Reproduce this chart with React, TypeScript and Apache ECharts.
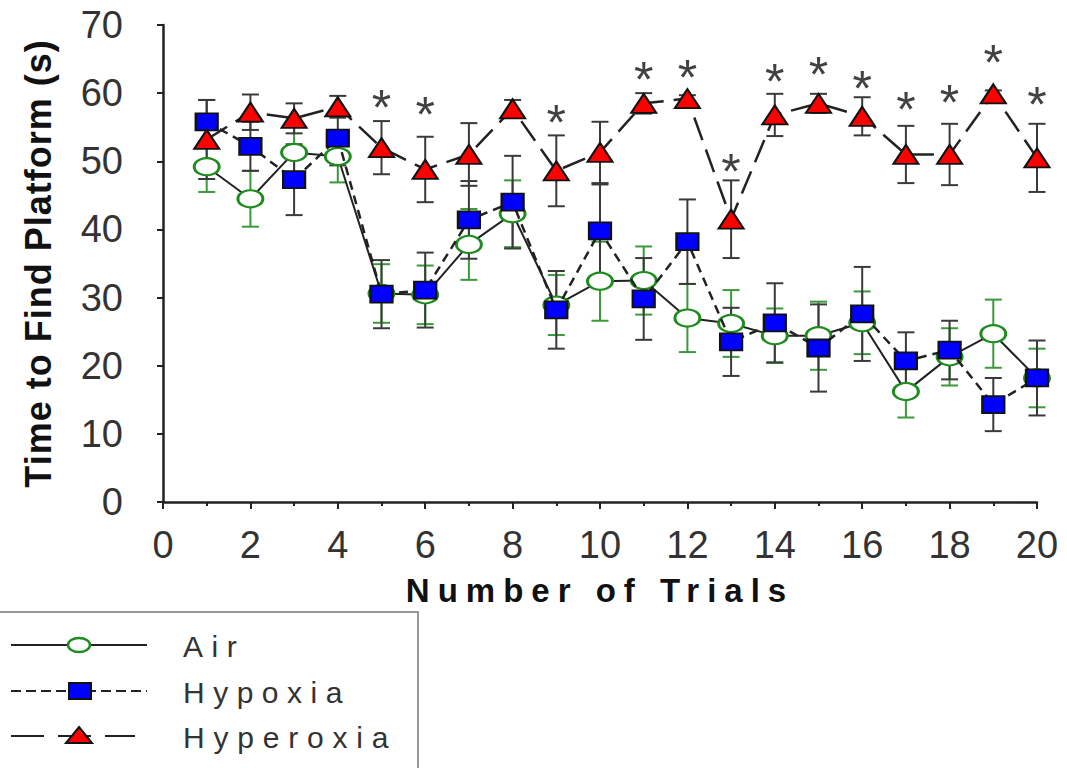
import React, { useEffect, useRef } from 'react';
import * as echarts from 'echarts';

const trials = [1, 2, 3, 4, 5, 6, 7, 8, 9, 10, 11, 12, 13, 14, 15, 16, 17, 18, 19, 20];

const air = [49.2, 44.5, 51.3, 50.7, 30.6, 30.4, 37.8, 42.3, 28.9, 32.4, 32.5, 27.0, 26.2, 24.4, 24.4, 26.3, 16.2, 21.3, 24.7, 18.2];
const airSe = [3.7, 4.1, 3.9, 3.8, 4.3, 4.3, 5.2, 4.9, 4.4, 5.8, 5.0, 5.0, 4.9, 4.0, 5.0, 4.6, 3.8, 4.2, 5.0, 4.3];

const hypoxia = [55.8, 52.2, 47.3, 53.4, 30.5, 31.1, 41.4, 44.0, 28.2, 39.8, 29.8, 38.2, 23.5, 26.3, 22.6, 27.6, 20.7, 22.3, 14.3, 18.2];
const hypoxiaSe = [3.2, 3.6, 5.2, 4.0, 5.0, 5.5, 5.7, 6.8, 5.7, 6.8, 6.0, 6.2, 5.0, 5.8, 6.4, 6.9, 4.2, 4.3, 3.9, 5.5];

const hyperoxia = [53.2, 57.2, 56.3, 58.0, 52.0, 48.8, 51.0, 57.7, 48.6, 51.3, 58.5, 59.2, 41.5, 56.8, 58.5, 56.6, 51.0, 51.0, 59.9, 50.5];
const hyperoxiaSe = [5.8, 2.6, 2.2, 1.6, 3.9, 4.8, 4.6, 1.3, 5.2, 4.5, 1.5, 0.5, 5.7, 3.1, 1.4, 2.8, 4.2, 4.5, 0.5, 5.0];

// significance markers (*) : trial and vertical position of the asterisk
const sigTrials = [5, 6, 9, 11, 12, 13, 14, 15, 16, 17, 18, 19, 20];
const sigY = [58.8, 57.8, 56.6, 62.9, 63.2, 49.5, 62.6, 63.7, 61.7, 58.6, 59.6, 65.4, 59.3];

const seriesNames = ['Air', 'Hypoxia', 'Hyperoxia'];
const xTicks = { min: 0, max: 20, interval: 2 };
const yTicks = { min: 0, max: 70, interval: 10 };

const FONT = "'Liberation Sans', Arial, sans-serif";
const GREEN = '#1e8c1e';

export default function App() {
  const ref = useRef<HTMLDivElement>(null);

  useEffect(() => {
    const el = ref.current!;
    const chart = echarts.init(el, null, { renderer: 'svg' });

    const pts = (vals: number[]) => trials.map((t, i) => [t, vals[i]]);
    const errData = (vals: number[], se: number[]) =>
      trials.map((t, i) => [t, vals[i] - se[i], vals[i] + se[i]]);

    const errSeries = (name: string, vals: number[], se: number[], color: string) => ({
      type: 'custom',
      name: name + ' SE',
      silent: true,
      z: 1,
      data: errData(vals, se),
      encode: { x: 0, y: [1, 2] },
      renderItem: (params: any, api: any) => {
        const x = api.value(0);
        const lo = api.coord([x, api.value(1)]);
        const hi = api.coord([x, api.value(2)]);
        const w = 8.5;
        const style = { stroke: color, lineWidth: 2, fill: 'none' };
        return {
          type: 'group',
          children: [
            { type: 'line', shape: { x1: lo[0], y1: lo[1], x2: hi[0], y2: hi[1] }, style },
            { type: 'line', shape: { x1: lo[0] - w, y1: lo[1], x2: lo[0] + w, y2: lo[1] }, style },
            { type: 'line', shape: { x1: hi[0] - w, y1: hi[1], x2: hi[0] + w, y2: hi[1] }, style },
          ],
        };
      },
    });

    const legendY = [645, 691, 736];
    const legendTextX = 183;

    const option: any = {
      animation: false,
      grid: { left: 163, right: 30, top: 25, bottom: 266, containLabel: false },
      xAxis: {
        type: 'value',
        min: xTicks.min,
        max: xTicks.max,
        interval: xTicks.interval,
        name: 'Number of Trials',
        nameLocation: 'middle',
        nameGap: 72,
        nameTextStyle: { fontSize: 33, fontWeight: 'bold', color: '#111', fontFamily: FONT },
        axisLine: { show: true, onZero: false, lineStyle: { color: '#222', width: 2.5 } },
        axisTick: { show: true, length: 7, lineStyle: { color: '#222', width: 2 } },
        minorTick: { show: true, splitNumber: 2, length: 4, lineStyle: { color: '#222', width: 2 } },
        splitLine: { show: false },
        minorSplitLine: { show: false },
        axisLabel: { fontSize: 38, color: '#333', margin: 24, fontFamily: FONT },
      },
      yAxis: {
        type: 'value',
        min: yTicks.min,
        max: yTicks.max,
        interval: yTicks.interval,
        name: 'Time to Find Platform (s)',
        nameLocation: 'middle',
        nameGap: 107,
        nameTextStyle: { fontSize: 36, fontWeight: 'bold', color: '#111', fontFamily: FONT },
        axisLine: { show: true, lineStyle: { color: '#222', width: 2.5 } },
        axisTick: { show: true, length: 6, lineStyle: { color: '#222', width: 2 } },
        splitLine: { show: false },
        axisLabel: { fontSize: 38, color: '#333', margin: 40, fontFamily: FONT },
      },
      series: [
        errSeries('Air', air, airSe, '#3a9a3a'),
        errSeries('Hypoxia', hypoxia, hypoxiaSe, '#3a3a3a'),
        errSeries('Hyperoxia', hyperoxia, hyperoxiaSe, '#3a3a3a'),
        {
          type: 'line',
          name: seriesNames[0],
          data: pts(air),
          z: 3,
          silent: true,
          symbol: 'circle',
          symbolSize: [25, 17],
          itemStyle: { color: '#fff', borderColor: GREEN, borderWidth: 2.5 },
          lineStyle: { color: '#222', width: 2 },
          emphasis: { disabled: true },
        },
        {
          type: 'line',
          name: seriesNames[1],
          data: pts(hypoxia),
          z: 4,
          silent: true,
          symbol: 'rect',
          symbolSize: [22, 17],
          itemStyle: { color: '#0000ff', borderColor: '#111', borderWidth: 2 },
          lineStyle: { color: '#222', width: 2.5, type: [9, 6] },
          emphasis: { disabled: true },
        },
        {
          type: 'line',
          name: seriesNames[2],
          data: pts(hyperoxia),
          z: 5,
          silent: true,
          symbol: 'triangle',
          symbolSize: [25, 19],
          itemStyle: { color: '#ff0000', borderColor: '#111', borderWidth: 2 },
          lineStyle: { color: '#222', width: 2.5, type: [24, 10] },
          emphasis: { disabled: true },
        },
        {
          type: 'scatter',
          name: 'significance',
          data: sigTrials.map((t, i) => [t, sigY[i]]),
          z: 6,
          silent: true,
          symbolSize: 1,
          itemStyle: { color: 'rgba(0,0,0,0)' },
          label: {
            show: true,
            position: 'inside',
            formatter: '*',
            fontSize: 50,
            color: '#111',
            fontFamily: FONT,
            offset: [0, 7],
          },
          emphasis: { disabled: true },
        },
      ],
      graphic: [
        {
          type: 'rect',
          shape: { x: -2, y: 612, width: 420, height: 180 },
          style: { fill: '#fff', stroke: '#777', lineWidth: 1.5 },
          z: 10,
        },
        // Air
        { type: 'line', shape: { x1: 11, y1: legendY[0], x2: 147, y2: legendY[0] }, style: { stroke: '#222', lineWidth: 2 }, z: 11 },
        { type: 'ellipse', shape: { cx: 79, cy: legendY[0], rx: 11, ry: 7 }, style: { fill: '#fff', stroke: GREEN, lineWidth: 2.5 }, z: 12 },
        // Hypoxia
        { type: 'line', shape: { x1: 11, y1: legendY[1], x2: 147, y2: legendY[1] }, style: { stroke: '#222', lineWidth: 2, lineDash: [10, 5] }, z: 11 },
        { type: 'rect', shape: { x: 69, y: legendY[1] - 8, width: 22, height: 16 }, style: { fill: '#0000ff', stroke: '#111', lineWidth: 2 }, z: 12 },
        // Hyperoxia
        { type: 'line', shape: { x1: 11, y1: legendY[2], x2: 135, y2: legendY[2] }, style: { stroke: '#222', lineWidth: 2, lineDash: [33, 14] }, z: 11 },
        { type: 'polygon', shape: { points: [[79, legendY[2] - 9], [92, legendY[2] + 7], [66, legendY[2] + 7]] }, style: { fill: '#ff0000', stroke: '#111', lineWidth: 2 }, z: 12 },
        ...seriesNames.map((n, i) => ({
          type: 'text',
          x: legendTextX,
          y: legendY[i] + 1,
          z: 12,
          style: { text: n, fontSize: 30, fill: '#333', fontFamily: FONT, verticalAlign: 'middle', align: 'left' },
        })),
      ],
    };

    chart.setOption(option);

    const spacing: Record<string, number> = {
      'Number of Trials': 8,
      'Time to Find Platform (s)': 1,
      Air: 8.5,
      Hypoxia: 8.5,
      Hyperoxia: 8.8,
    };
    const applySpacing = () => {
      el.querySelectorAll('text').forEach((t) => {
        const s = (t.textContent || '').trim();
        if (spacing[s] !== undefined) (t as any).style.letterSpacing = spacing[s] + 'px';
      });
    };
    applySpacing();
    chart.on('finished', applySpacing);

    return () => {
      chart.dispose();
    };
  }, []);

  return (
    <div
      ref={ref}
      style={{ position: 'fixed', left: 0, top: 0, width: 1067, height: 768, background: '#fff' }}
    />
  );
}
